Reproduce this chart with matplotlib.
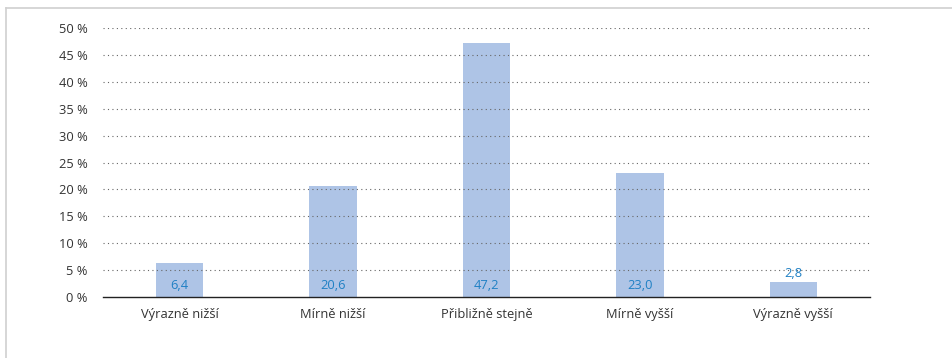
import numpy as np
import matplotlib
matplotlib.use("Agg")
import matplotlib.pyplot as plt
from matplotlib.lines import Line2D

plt.rcParams['font.family'] = ['Open Sans', 'DejaVu Sans']

# ---------------- data ----------------
categories = ["Výrazně nižší", "Mírně nižší", "Přibližně stejně", "Mírně vyšší", "Výrazně vyšší"]
values     = [6.4, 20.6, 47.2, 23.0, 2.8]
yticks     = [0, 5, 10, 15, 20, 25, 30, 35, 40, 45, 50]
# --------------------------------------

BAR_COLOR  = "#aec4e6"
TEXT_BLUE  = "#1f80c4"
TEXT_GRAY  = "#333333"
FS = 9.3

fig = plt.figure(figsize=(9.53, 3.58), dpi=100)
ax = fig.add_axes([0.108, 0.170, 0.805, 0.752])

x = np.arange(len(categories))
ax.bar(x, values, width=0.31, color=BAR_COLOR, zorder=1)

ax.set_xlim(-0.5, len(categories) - 0.5)
ax.set_ylim(0, 50)
ax.set_yticks(yticks)
ax.set_yticklabels([f"{t} %" for t in yticks], fontsize=FS, color=TEXT_GRAY)
ax.set_xticks(x)
ax.set_xticklabels(categories, fontsize=FS, color=TEXT_GRAY)
ax.tick_params(axis="both", length=0)
ax.tick_params(axis="y", pad=11)
ax.tick_params(axis="x", pad=8)

for t in yticks[1:]:
    ax.axhline(t, color="#666666", lw=0.8, ls=(0, (1, 3)), zorder=2)

for s in ["top", "right", "left"]:
    ax.spines[s].set_visible(False)
ax.spines["bottom"].set_color("#222222")
ax.spines["bottom"].set_linewidth(1.0)
ax.spines["bottom"].set_zorder(3)

for xi, v in zip(x, values):
    label = f"{v:.1f}".replace(".", ",")
    if v < 4:
        ax.text(xi, v + 0.4, label, ha="center", va="bottom", fontsize=FS, color=TEXT_BLUE, zorder=4)
    else:
        ax.text(xi, 1.0, label, ha="center", va="bottom", fontsize=FS, color=TEXT_BLUE, zorder=4)

# light frame on top and left of the figure
fig.add_artist(Line2D([6 / 953, 1.0], [1 - 8 / 358, 1 - 8 / 358], color="#d0d0d0", lw=1.2))
fig.add_artist(Line2D([6 / 953, 6 / 953], [0.0, 1 - 8 / 358], color="#d0d0d0", lw=1.2))

fig.savefig("out.png", dpi=100)
